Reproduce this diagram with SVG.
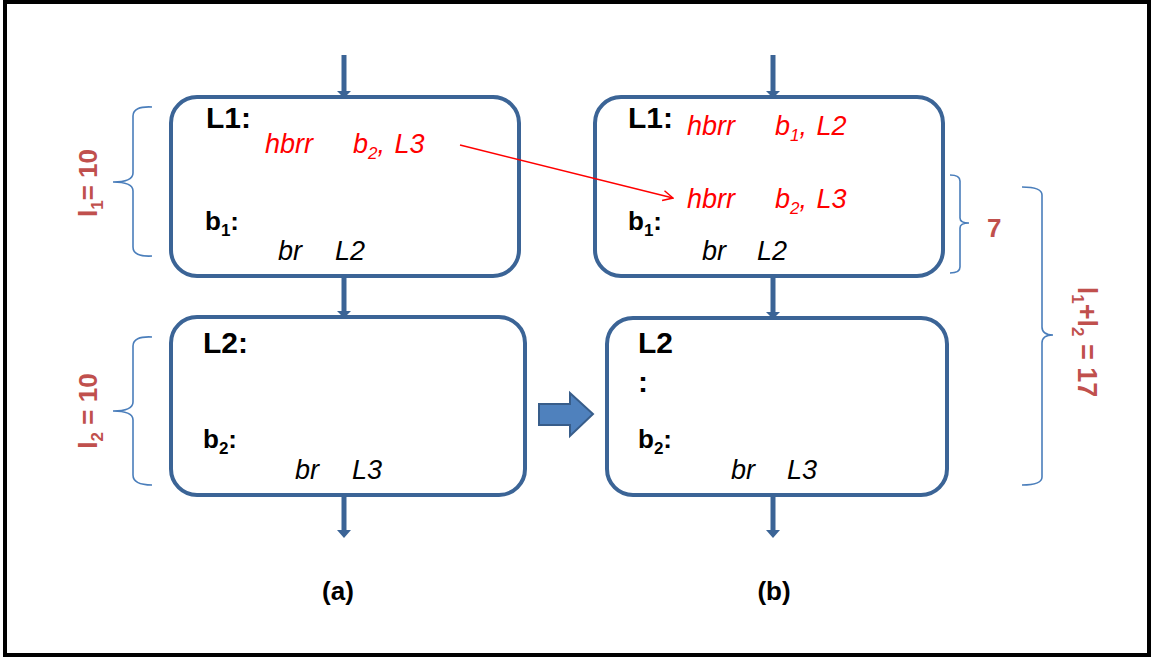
<svg xmlns="http://www.w3.org/2000/svg" width="1154" height="659" viewBox="0 0 1154 659">
<defs>
<style>
.box{fill:#fff;stroke:#3b6496;stroke-width:4}
.flow{stroke:#3b6496;stroke-width:5;fill:none}
.head{fill:#3b6496}
.brace{fill:none;stroke:#4a7ebb;stroke-width:1.6}
.lbl{font-family:"Liberation Sans",Arial,sans-serif;font-weight:bold;font-size:26px;fill:#000}
.big{font-size:30px}
.code{font-family:"Liberation Sans",Arial,sans-serif;font-style:italic;font-size:27px;word-spacing:2px}
.red{fill:#ff0000}
.blk{fill:#000}
.sub{font-size:17px}
.meas{font-family:"Liberation Sans",Arial,sans-serif;font-weight:bold;font-size:26px;fill:#c0504d}
.meas2{font-size:27px}
.cap{font-family:"Liberation Sans",Arial,sans-serif;font-weight:bold;font-size:26px;fill:#000}
</style>
<marker id="open" viewBox="0 0 12 12" refX="11" refY="6" markerWidth="12" markerHeight="12" markerUnits="userSpaceOnUse" orient="auto">
<path d="M1,1 L11,6 L1,11" fill="none" stroke="#ff0000" stroke-width="1.5"/>
</marker>
</defs>
<rect x="0" y="0" width="1154" height="659" fill="#fff"/>
<rect x="5" y="2" width="1144" height="653" fill="none" stroke="#000" stroke-width="4"/>

<g id="a-L1">
<rect class="box" x="171" y="97" width="348" height="179" rx="26"/>
<text class="lbl big" x="206" y="128">L1:</text>
<text class="code red" x="265" y="153">hbrr</text>
<text class="code red" x="353" y="153">b<tspan class="sub" dy="6">2</tspan><tspan dy="-6">, L3</tspan></text>
<text class="lbl" x="205" y="230">b<tspan class="sub" dy="6">1</tspan><tspan dy="-6">:</tspan></text>
<text class="code blk" x="278" y="260">br</text>
<text class="code blk" x="335" y="260">L2</text>
</g>

<g id="a-L2">
<rect class="box" x="171" y="317" width="354" height="178" rx="26"/>
<text class="lbl big" x="203" y="353">L2:</text>
<text class="lbl" x="203" y="448">b<tspan class="sub" dy="6">2</tspan><tspan dy="-6">:</tspan></text>
<text class="code blk" x="295" y="479">br</text>
<text class="code blk" x="352" y="479">L3</text>
</g>

<g id="b-L1">
<rect class="box" x="595" y="97" width="348" height="179" rx="26"/>
<text class="lbl big" x="628" y="128">L1:</text>
<text class="code red" x="687" y="135">hbrr</text>
<text class="code red" x="775" y="135">b<tspan class="sub" dy="6">1</tspan><tspan dy="-6">, L2</tspan></text>
<text class="code red" x="687" y="208">hbrr</text>
<text class="code red" x="775" y="208">b<tspan class="sub" dy="6">2</tspan><tspan dy="-6">, L3</tspan></text>
<text class="lbl" x="628" y="230">b<tspan class="sub" dy="6">1</tspan><tspan dy="-6">:</tspan></text>
<text class="code blk" x="702" y="260">br</text>
<text class="code blk" x="757" y="260">L2</text>
</g>

<g id="b-L2">
<rect class="box" x="607" y="318" width="340" height="177" rx="26"/>
<text class="lbl big" x="638" y="353">L2</text>
<text class="lbl big" x="638" y="392">:</text>
<text class="lbl" x="638" y="448">b<tspan class="sub" dy="6">2</tspan><tspan dy="-6">:</tspan></text>
<text class="code blk" x="731" y="479">br</text>
<text class="code blk" x="787" y="479">L3</text>
</g>

<g id="brace-l1">
<path class="brace" d="M152,107 Q133,106 133,116 L133,173 Q133,182 113,182 Q133,182 133,191 L133,247 Q133,257 152,256"/>
<text class="meas" transform="translate(97,183) rotate(-90)" text-anchor="middle">l<tspan class="sub" dy="6">1</tspan><tspan dy="-6">= 10</tspan></text>
</g>

<g id="brace-l2">
<path class="brace" d="M152,337 Q133,336 133,346 L133,402 Q133,411 113,411 Q133,411 133,420 L133,475 Q133,485 152,485"/>
<text class="meas" transform="translate(97,411) rotate(-90)" text-anchor="middle">l<tspan class="sub" dy="6">2</tspan><tspan dy="-6"> = 10</tspan></text>
</g>

<g id="brace-7">
<path class="brace" d="M950,175 Q960,175 960,181 L960,218 Q960,223 969,223 Q960,223 960,228 L960,267 Q960,273 950,273"/>
<text class="meas" x="987" y="237">7</text>
</g>

<g id="brace-sum">
<path class="brace" d="M1022,187 Q1042,187 1042,195 L1042,327 Q1042,335 1053,335 Q1042,335 1042,343 L1042,477 Q1042,485 1022,485"/>
<text class="meas meas2" transform="translate(1078,342) rotate(90)" text-anchor="middle">l<tspan class="sub" dy="6">1</tspan><tspan dy="-6">+l</tspan><tspan class="sub" dy="6">2</tspan><tspan dy="-6"> = 17</tspan></text>
</g>

<g id="captions">
<text class="cap" x="338" y="600" text-anchor="middle">(a)</text>
<text class="cap" x="774" y="600" text-anchor="middle">(b)</text>
</g>

<g id="connectors">
<line class="flow" x1="344" y1="55" x2="344" y2="92"/>
<path class="head" d="M337,91 L351,91 L344,98 Z"/>
<line class="flow" x1="344" y1="276" x2="344" y2="312"/>
<path class="head" d="M337,311 L351,311 L344,318 Z"/>
<line class="flow" x1="344" y1="496" x2="344" y2="531"/>
<path class="head" d="M337,530 L351,530 L344,538 Z"/>
<line class="flow" x1="773" y1="55" x2="773" y2="92"/>
<path class="head" d="M766,91 L780,91 L773,98 Z"/>
<line class="flow" x1="773" y1="276" x2="773" y2="313"/>
<path class="head" d="M766,312 L780,312 L773,319 Z"/>
<line class="flow" x1="773" y1="496" x2="773" y2="531"/>
<path class="head" d="M766,530 L780,530 L773,538 Z"/>
<line x1="460" y1="145" x2="673" y2="198" stroke="#ff0000" stroke-width="1.5" marker-end="url(#open)"/>
<path d="M539,404 L570,404 L570,393 L593,414 L570,436 L570,425 L539,425 Z" fill="#4f81bd" stroke="#385d8a" stroke-width="2"/>
</g>
</svg>
